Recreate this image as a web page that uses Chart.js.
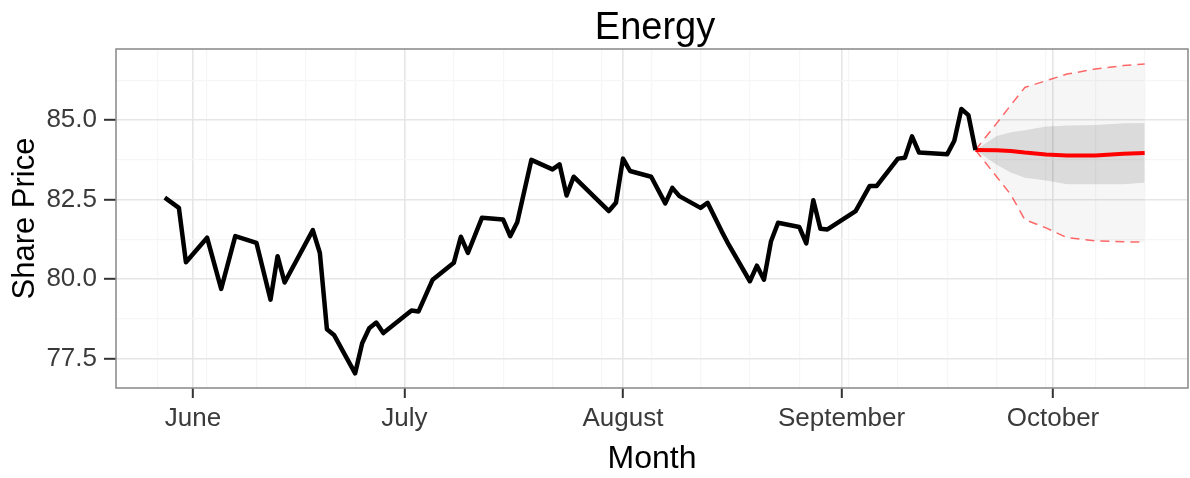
<!DOCTYPE html>
<html><head><meta charset="utf-8">
<script src="https://cdn.jsdelivr.net/npm/chart.js@4.4.0/dist/chart.umd.min.js"></script>
<style>html,body{margin:0;padding:0;background:#fff;}</style>
</head><body>
<canvas id="c" width="1190" height="478"></canvas>
<script>
// ---- data (x = days since 1 June) ----
const histDays = [-4,-2,-1,2,4,6,9,11,12,13,17,18,19,20,23,24,25,26,27,31,32,34,37,38,39,41,44,45,46,48,51,52,53,54,59,60,61,62,65,67,68,69,72,73,75,76,79,80,81,82,83,86,87,88,89,90,94,96,97,100,101,102,103,107,108,109,110,111];
const histPrice = [82.56,82.24,80.53,81.30,79.69,81.35,81.14,79.35,80.72,79.89,81.54,80.82,78.42,78.24,77.03,77.98,78.45,78.63,78.30,79.01,78.98,79.98,80.51,81.33,80.82,81.93,81.87,81.35,81.79,83.75,83.45,83.61,82.63,83.22,82.14,82.40,83.79,83.40,83.22,82.38,82.87,82.61,82.24,82.40,81.50,81.08,79.93,80.42,79.98,81.19,81.77,81.64,81.12,82.48,81.58,81.56,82.14,82.93,82.93,83.79,83.82,84.49,83.98,83.93,84.35,85.35,85.16,84.06];

const fcDays = [111,114,116,118,121,124,128,132,135];
const fcMean = [84.06,84.05,84.03,83.98,83.92,83.89,83.89,83.94,83.97];
const fcHi80 = [84.06,84.50,84.62,84.68,84.80,84.83,84.85,84.90,84.91];
const fcLo80 = [84.06,83.60,83.35,83.19,83.10,82.98,82.98,82.98,83.03];
const fcHi95 = [84.06,84.90,85.47,86.03,86.24,86.45,86.61,86.72,86.77];
const fcLo95 = [84.06,83.22,82.66,81.87,81.61,81.30,81.20,81.17,81.16];

const monthDays = [0,30,61,92,122];
const monthLabels = ['June','July','August','September','October'];
const weekDays = [-5,2,9,16,23,37,44,51,58,65,72,79,86,93,100,107,114,121,128,135];
const yTickValues = [77.5,80,82.5,85];
const yTickLabels = ['77.5','80.0','82.5','85.0'];
const yMinorValues = [78.75,81.25,83.75,86.25];

const FONT = '"Liberation Sans", Arial, sans-serif';
const pts = (xs, ys) => xs.map((x, i) => ({x: x, y: ys[i]}));

const titlePlugin = {
  id: 'ggTitle',
  afterDraw(chart) {
    const {ctx, chartArea} = chart;
    ctx.save();
    ctx.font = '38px ' + FONT;
    ctx.fillStyle = '#000';
    ctx.textAlign = 'center';
    ctx.textBaseline = 'alphabetic';
    ctx.fillText('Energy', (chartArea.left + chartArea.right) / 2 + 3, 39);
    ctx.strokeStyle = '#8f8f8f';
    ctx.lineWidth = 1.6;
    ctx.strokeRect(chartArea.left, chartArea.top, chartArea.right - chartArea.left, chartArea.bottom - chartArea.top);
    ctx.restore();
  }
};

new Chart(document.getElementById('c'), {
  type: 'line',
  data: {
    datasets: [
      {data: pts(histDays, histPrice), borderColor: '#000', borderWidth: 4.5, borderJoinStyle: 'round', pointRadius: 0, fill: false, order: 0},
      {data: pts(fcDays, fcMean), borderColor: '#ff0000', borderWidth: 4, borderJoinStyle: 'round', pointRadius: 0, fill: false, order: 1},
      {data: pts(fcDays, fcHi95), borderColor: 'rgba(255,40,40,0.7)', borderWidth: 1.5, borderDash: [9,6], pointRadius: 0, fill: false, order: 2},
      {data: pts(fcDays, fcLo95), borderColor: 'rgba(255,40,40,0.7)', borderWidth: 1.5, borderDash: [9,6], pointRadius: 0, fill: false, order: 3},
      {data: pts(fcDays, fcHi80), borderWidth: 0, borderColor: 'rgba(0,0,0,0)', pointRadius: 0, fill: '+1', backgroundColor: 'rgba(0,0,0,0.11)', order: 4},
      {data: pts(fcDays, fcLo80), borderWidth: 0, borderColor: 'rgba(0,0,0,0)', pointRadius: 0, fill: false, order: 5},
      {data: pts(fcDays, fcHi95), borderWidth: 0, borderColor: 'rgba(0,0,0,0)', pointRadius: 0, fill: '+1', backgroundColor: 'rgba(0,0,0,0.035)', order: 6},
      {data: pts(fcDays, fcLo95), borderWidth: 0, borderColor: 'rgba(0,0,0,0)', pointRadius: 0, fill: false, order: 7}
    ]
  },
  options: {
    responsive: false,
    animation: false,
    devicePixelRatio: 1,
    layout: {padding: {left: 0, right: 2, top: 49, bottom: 0}},
    plugins: {legend: {display: false}, tooltip: {enabled: false}, title: {display: false}},
    elements: {point: {radius: 0}, line: {tension: 0}},
    scales: {
      x: {
        type: 'linear', min: -10.92, max: 141.15,
        afterBuildTicks(scale) {
          const vals = monthDays.concat(weekDays.filter(d => monthDays.indexOf(d) < 0)).sort((a, b) => a - b);
          scale.ticks = vals.map(v => ({value: v}));
        },
        afterFit(scale) { scale.height = 90; },
        ticks: {
          autoSkip: false, maxRotation: 0, padding: 5, color: '#3a3a3a',
          font: {family: FONT, size: 26},
          callback(v) { const i = monthDays.indexOf(v); return i >= 0 ? monthLabels[i] : ''; }
        },
        grid: {
          color: c => monthDays.indexOf(c.tick && c.tick.value) >= 0 ? '#e6e6e6' : '#f6f6f6',
          lineWidth: c => monthDays.indexOf(c.tick && c.tick.value) >= 0 ? 1.6 : 1.2,
          tickColor: c => monthDays.indexOf(c.tick && c.tick.value) >= 0 ? '#333' : 'rgba(0,0,0,0)',
          tickWidth: 2, tickLength: 10, drawTicks: true
        },
        border: {display: false},
        title: {display: true, text: 'Month', color: '#000', font: {family: FONT, size: 32}, padding: {top: 0, bottom: 0}}
      },
      y: {
        type: 'linear', min: 76.57, max: 87.24,
        afterBuildTicks(scale) {
          const vals = yTickValues.concat(yMinorValues).sort((a, b) => a - b);
          scale.ticks = vals.map(v => ({value: v}));
        },
        afterFit(scale) { scale.width = 116; },
        ticks: {
          autoSkip: false, padding: 7, color: '#3a3a3a',
          font: {family: FONT, size: 26},
          callback(v) { const i = yTickValues.indexOf(v); return i >= 0 ? yTickLabels[i] : ''; }
        },
        grid: {
          color: c => yTickValues.indexOf(c.tick && c.tick.value) >= 0 ? '#e6e6e6' : '#f6f6f6',
          lineWidth: c => yTickValues.indexOf(c.tick && c.tick.value) >= 0 ? 1.6 : 1.2,
          tickColor: c => yTickValues.indexOf(c.tick && c.tick.value) >= 0 ? '#333' : 'rgba(0,0,0,0)',
          tickWidth: 2, tickLength: 12, drawTicks: true
        },
        border: {display: false},
        title: {display: true, text: 'Share Price', color: '#000', font: {family: FONT, size: 31}, padding: {top: 7, bottom: 0}}
      }
    }
  },
  plugins: [titlePlugin]
});
</script>
</body></html>
